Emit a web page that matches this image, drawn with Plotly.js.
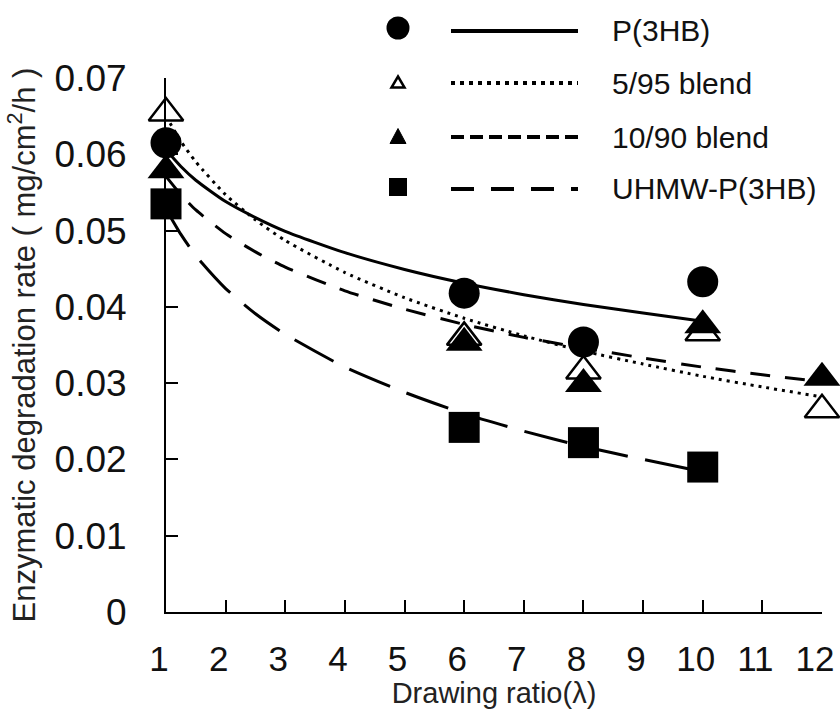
<!DOCTYPE html>
<html>
<head>
<meta charset="utf-8">
<script src="https://cdn.plot.ly/plotly-3.0.1.min.js"></script>
<style>html,body{margin:0;padding:0;background:#fff;}#chart{width:840px;height:709px;}</style>
</head>
<body>
<div id="chart"></div>
<script>
// ---- data ----
const seriesNames = ["P(3HB)", "5/95 blend", "10/90 blend", "UHMW-P(3HB)"];

const p3hbX = [1, 6, 8, 10];
const p3hbY = [0.0615, 0.0418, 0.0354, 0.0433];
const blend595X = [1, 6, 8, 10, 12];
const blend595Y = [0.0654, 0.0360, 0.0316, 0.0366, 0.0265];
const blend1090X = [1, 6, 8, 10, 12];
const blend1090Y = [0.0579, 0.0353, 0.0299, 0.0376, 0.0307];
const uhmwX = [1, 6, 8, 10];
const uhmwY = [0.0535, 0.0242, 0.0222, 0.0190];

// trend curves, values
const curveX10 = [1, 1.25, 1.5, 2, 2.5, 3, 4, 5, 6, 7, 8, 9, 10];
const curveX12 = [1, 1.25, 1.5, 2, 2.5, 3, 4, 5, 6, 7, 8, 9, 10, 11, 12];
const p3hbCurve = [0.0606, 0.0584, 0.0566, 0.0538, 0.0517, 0.0499, 0.0471, 0.0449, 0.0431, 0.0416, 0.0403, 0.0392, 0.0381];
const blend595Curve = [0.0650, 0.0617, 0.0590, 0.0547, 0.0514, 0.0487, 0.0445, 0.0412, 0.0385, 0.0362, 0.0342, 0.0325, 0.0309, 0.0295, 0.0282];
const blend1090Curve = [0.0571, 0.0547, 0.0527, 0.0496, 0.0472, 0.0452, 0.0421, 0.0397, 0.0377, 0.0360, 0.0346, 0.0333, 0.0321, 0.0311, 0.0302];
const uhmwCurve = [0.0528, 0.0495, 0.0467, 0.0424, 0.0391, 0.0364, 0.0321, 0.0288, 0.0260, 0.0237, 0.0217, 0.0200, 0.0184];

const xTicks = [1, 2, 3, 4, 5, 6, 7, 8, 9, 10, 11, 12];
const yTicks = [0, 0.01, 0.02, 0.03, 0.04, 0.05, 0.06, 0.07];

// ---- styles ----
const INK = "#000";
const dashes = ["solid", "3px,5px", "20px,15px", "44px,18px"];
const legendDashes = ["solid", "4px,5px", "13px,6px", "23px,17px"];

function curve(x, y, dash) {
  return {x: x, y: y, mode: "lines", type: "scatter", showlegend: false, hoverinfo: "skip", cliponaxis: false,
          line: {color: INK, width: 3, dash: dash, shape: "spline", smoothing: 0.6}};
}
function pts(x, y, name, symbol, fill, size) {
  return {x: x, y: y, name: name, mode: "markers", type: "scatter", showlegend: false, cliponaxis: false,
          marker: {symbol: symbol, size: size, color: fill, line: {color: INK, width: fill === "#fff" ? 2.5 : 0}}};
}

const traces = [
  curve(curveX10, p3hbCurve, dashes[0]),
  curve(curveX12, blend595Curve, dashes[1]),
  curve(curveX12, blend1090Curve, dashes[2]),
  curve(curveX10, uhmwCurve, dashes[3]),
  pts(p3hbX, p3hbY, seriesNames[0], "circle", INK, 31),
  pts(blend595X, blend595Y, seriesNames[1], "triangle-up", "#fff", 30),
  pts(blend1090X, blend1090Y, seriesNames[2], "triangle-up", INK, 32),
  pts(uhmwX, uhmwY, seriesNames[3], "square", INK, 31)
];

// ---- custom legend (marker, separate line sample, label) ----
const L = 166, R = 822, T = 78, B = 612;
const px = v => (v - L) / (R - L);
const py = v => (B - v) / (B - T);
const rowsY = [31, 83, 137, 189];
const mkX = 398, lineX0 = 451, lineX1 = 578, textX = 610;
const shapes = [];
const annotations = [];
rowsY.forEach((ry, i) => {
  shapes.push({type: "line", xref: "paper", yref: "paper", x0: px(lineX0), x1: px(lineX1), y0: py(ry), y1: py(ry),
               line: {color: INK, width: 4, dash: legendDashes[i]}});
  annotations.push({xref: "paper", yref: "paper", x: px(textX), y: py(ry), xanchor: "left", yanchor: "middle",
                    text: seriesNames[i], showarrow: false,
                    font: {family: "Liberation Sans, Arial, sans-serif", size: 30, color: "#111"}});
});
// legend markers
shapes.push({type: "circle", xref: "paper", yref: "paper", x0: px(mkX - 11.5), x1: px(mkX + 11.5),
             y0: py(28 + 11.5), y1: py(28 - 11.5), fillcolor: INK, line: {width: 0}});
function tri(cx, cy, w, h) {
  return "M" + px(cx) + "," + py(cy - h / 2) + " L" + px(cx + w / 2) + "," + py(cy + h / 2) +
         " L" + px(cx - w / 2) + "," + py(cy + h / 2) + " Z";
}
shapes.push({type: "path", xref: "paper", yref: "paper", path: tri(mkX, 82, 13, 11), fillcolor: "#fff",
             line: {color: INK, width: 2.5}});
shapes.push({type: "path", xref: "paper", yref: "paper", path: tri(mkX, 136, 16, 15), fillcolor: INK,
             line: {color: INK, width: 1}});
shapes.push({type: "rect", xref: "paper", yref: "paper", x0: px(mkX - 9), x1: px(mkX + 9),
             y0: py(187 + 9), y1: py(187 - 9), fillcolor: INK, line: {width: 0}});

const layout = {
  width: 840, height: 709,
  margin: {l: 166, r: 18, t: 78, b: 97, pad: 0},
  paper_bgcolor: "#fff", plot_bgcolor: "#fff",
  showlegend: false,
  font: {family: "Liberation Sans, Arial, sans-serif", color: "#111"},
  xaxis: {
    range: [1, 12], tickmode: "array", tickvals: xTicks, ticktext: xTicks.map(String),
    ticks: "inside", ticklen: 12, tickwidth: 2, tickcolor: INK,
    showline: true, linecolor: INK, linewidth: 2, showgrid: false, zeroline: false,
    ticklabelstandoff: 15, ticklabelshift: -7,
    tickfont: {family: "Liberation Sans, Arial, sans-serif", size: 35, color: "#111"},
    title: {text: "Drawing ratio(λ)", standoff: 20,
            font: {family: "Liberation Sans, Arial, sans-serif", size: 29, color: "#222"}}
  },
  yaxis: {
    range: [0, 0.07], tickmode: "array", tickvals: yTicks, ticktext: yTicks.map(v => String(+v.toFixed(2))),
    ticks: "inside", ticklen: 12, tickwidth: 2, tickcolor: INK,
    showline: true, linecolor: INK, linewidth: 2, showgrid: false, zeroline: false,
    ticklabelstandoff: 30,
    tickfont: {family: "Liberation Sans, Arial, sans-serif", size: 37, color: "#111"},
    title: {text: "Enzymatic degradation rate ( mg/cm<sup>2</sup>/h )", standoff: 10,
            font: {family: "Liberation Sans, Arial, sans-serif", size: 31, color: "#222"}}
  },
  shapes: shapes,
  annotations: annotations
};

Plotly.newPlot("chart", traces, layout, {staticPlot: true, displayModeBar: false});
</script>
</body>
</html>
